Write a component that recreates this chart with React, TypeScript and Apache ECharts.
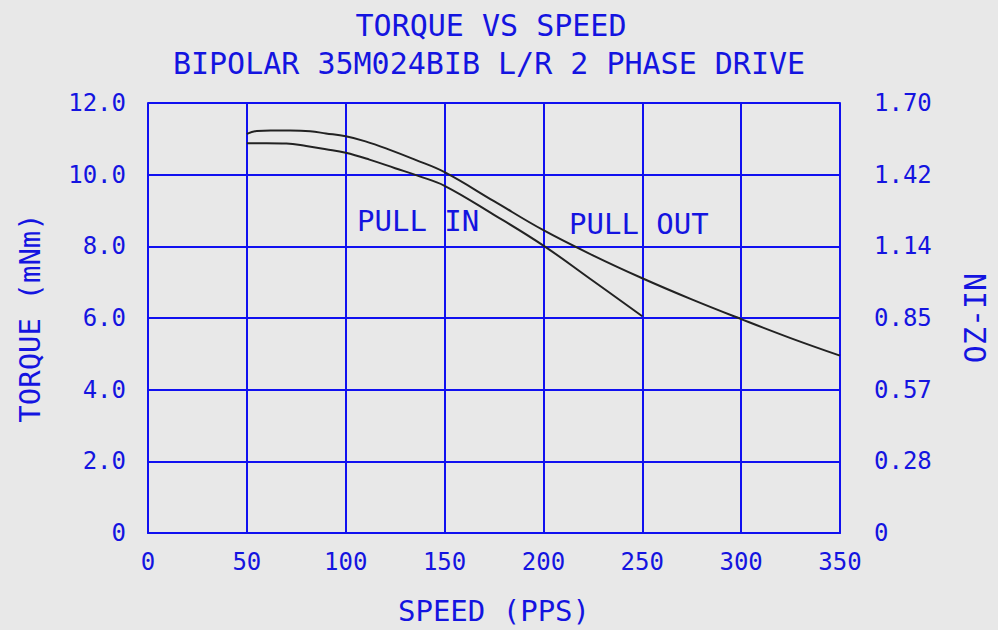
import React, { useEffect, useRef } from "react";
import * as echarts from "echarts";

const TITLE = "TORQUE VS SPEED";
const SUBTITLE = "BIPOLAR 35M024BIB L/R 2 PHASE DRIVE";
const X_NAME = "SPEED (PPS)";
const Y_NAME = "TORQUE (mNm)";
const Y2_NAME = "OZ-IN";

const X_TICKS = [0, 50, 100, 150, 200, 250, 300, 350];
const LEFT_TICK_LABELS = ["0", "2.0", "4.0", "6.0", "8.0", "10.0", "12.0"];
const RIGHT_TICK_LABELS = ["0", "0.28", "0.57", "0.85", "1.14", "1.42", "1.70"];

// Pull-out curve (speed PPS, torque mNm)
const PULL_OUT_SPEED = [50, 55, 62, 72, 82, 90, 100, 110, 122, 135, 150, 175, 200, 225, 250, 275, 300, 325, 350];
const PULL_OUT_TORQUE = [11.14, 11.22, 11.23, 11.23, 11.21, 11.15, 11.07, 10.93, 10.7, 10.42, 10.07, 9.26, 8.45, 7.75, 7.11, 6.52, 5.97, 5.44, 4.95];

// Pull-in curve
const PULL_IN_SPEED = [50, 60, 70, 80, 90, 100, 112, 125, 137, 150, 175, 200, 225, 250];
const PULL_IN_TORQUE = [10.88, 10.88, 10.87, 10.8, 10.71, 10.61, 10.42, 10.18, 9.96, 9.69, 8.88, 8.02, 7.04, 6.05];

const LABEL_PULL_IN = "PULL IN";
const LABEL_PULL_OUT = "PULL OUT";

const BLUE = "#1010f0";
const TEXT_BLUE = "#1414e0";
const FONT = "DejaVu Sans Mono";

export default function App() {
  const ref = useRef<HTMLDivElement>(null);
  useEffect(() => {
    if (!ref.current) return;
    const chart = echarts.init(ref.current, undefined, { renderer: "svg" });
    const pullOut = PULL_OUT_SPEED.map((s, i) => [s, PULL_OUT_TORQUE[i]]);
    const pullIn = PULL_IN_SPEED.map((s, i) => [s, PULL_IN_TORQUE[i]]);
    const rightMax = parseFloat(RIGHT_TICK_LABELS[RIGHT_TICK_LABELS.length - 1]);
    const rightStep = rightMax / (RIGHT_TICK_LABELS.length - 1);
    chart.setOption({
      animation: false,
      backgroundColor: "#e8e8e8",
      textStyle: { fontFamily: FONT },
      graphic: [
        { type: "text", x: 491, y: 10, style: { text: TITLE, font: `30px '${FONT}'`, fill: TEXT_BLUE, align: "center" } },
        { type: "text", x: 489, y: 48, style: { text: SUBTITLE, font: `30px '${FONT}'`, fill: TEXT_BLUE, align: "center" } },
        { type: "text", x: 357, y: 206, style: { text: LABEL_PULL_IN, font: `29px '${FONT}'`, fill: TEXT_BLUE } },
        { type: "text", x: 569, y: 209, style: { text: LABEL_PULL_OUT, font: `29px '${FONT}'`, fill: TEXT_BLUE } },
      ],
      grid: { left: 148, top: 103, width: 695, height: 434, containLabel: false },
      xAxis: {
        type: "value",
        min: X_TICKS[0],
        max: X_TICKS[X_TICKS.length - 1],
        interval: X_TICKS[1] - X_TICKS[0],
        name: X_NAME,
        nameLocation: "middle",
        nameGap: 63,
        nameTextStyle: { color: TEXT_BLUE, fontSize: 29, fontFamily: FONT },
        axisLine: { show: true, lineStyle: { color: BLUE, width: 2 } },
        axisTick: { show: false },
        axisLabel: { color: TEXT_BLUE, fontSize: 24, fontFamily: FONT, margin: 17 },
        splitLine: { show: true, lineStyle: { color: BLUE, width: 2 } },
      },
      yAxis: [
        {
          type: "value",
          min: 0,
          max: 12,
          interval: 2,
          name: Y_NAME,
          nameLocation: "middle",
          nameRotate: 90,
          nameGap: 104,
          nameTextStyle: { color: TEXT_BLUE, fontSize: 29, fontFamily: FONT },
          axisLine: { show: true, lineStyle: { color: BLUE, width: 2 } },
          axisTick: { show: false },
          axisLabel: {
            color: TEXT_BLUE,
            fontSize: 24,
            fontFamily: FONT,
            margin: 22,
            formatter: (v: number) => LEFT_TICK_LABELS[Math.round(v / 2)] ?? "",
          },
          splitLine: { show: true, lineStyle: { color: BLUE, width: 2 } },
        },
        {
          type: "value",
          position: "right",
          min: 0,
          max: rightMax,
          interval: rightStep,
          name: Y2_NAME,
          nameLocation: "middle",
          nameRotate: 90,
          nameGap: 120,
          nameTextStyle: { color: TEXT_BLUE, fontSize: 30, fontFamily: FONT },
          axisLine: { show: true, lineStyle: { color: BLUE, width: 2 } },
          axisTick: { show: false },
          axisLabel: {
            color: TEXT_BLUE,
            fontSize: 24,
            fontFamily: FONT,
            margin: 34,
            formatter: (v: number) => RIGHT_TICK_LABELS[Math.round(v / rightStep)] ?? "",
          },
          splitLine: { show: false },
        },
      ],
      series: [
        {
          name: "Pull out",
          type: "line",
          data: pullOut,
          showSymbol: false,
          smooth: 0.4,
          lineStyle: { color: "#222", width: 2 },
          z: 5,
        },
        {
          name: "Pull in",
          type: "line",
          data: pullIn,
          showSymbol: false,
          smooth: 0.4,
          lineStyle: { color: "#222", width: 2 },
          z: 5,
        },
      ],
    });
    return () => chart.dispose();
  }, []);
  return (
    <div
      ref={ref}
      style={{ position: "fixed", left: 0, top: 0, width: 998, height: 630 }}
    />
  );
}
